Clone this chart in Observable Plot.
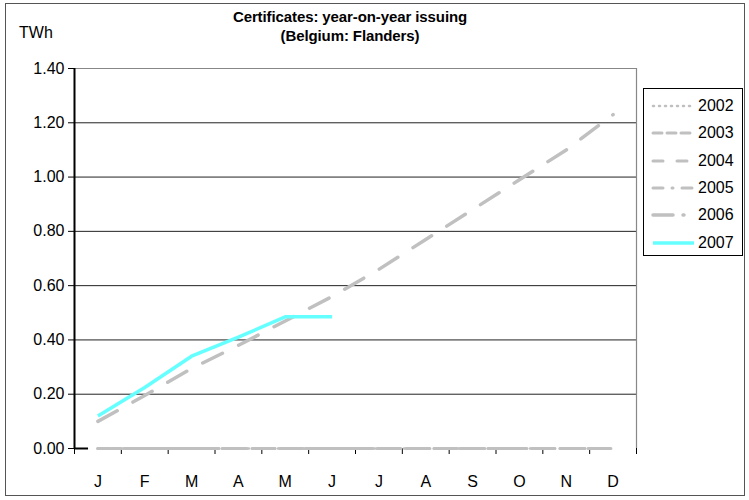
<!DOCTYPE html>
<html><head><meta charset="utf-8">
<script src="https://cdn.jsdelivr.net/npm/d3@7"></script>
<script src="https://cdn.jsdelivr.net/npm/@observablehq/plot@0.6"></script>
<style>
body{margin:0;background:#fff;font-family:"Liberation Sans",Arial,sans-serif;}
#wrap{position:relative;width:749px;height:500px;overflow:hidden;}
#border{position:absolute;left:5px;top:3px;width:740px;height:493px;border:1px solid #555;box-sizing:border-box;}
#title{position:absolute;left:150px;width:400px;top:7px;text-align:center;font-weight:bold;font-size:15px;line-height:19px;color:#000;letter-spacing:-0.1px;}
#unit{position:absolute;left:19px;top:24px;font-size:16px;color:#000;}
#chart{position:absolute;left:0;top:0;}
#legend{position:absolute;left:643px;top:88px;width:100px;height:168px;border:1px solid #000;box-sizing:border-box;background:#fff;}
.li{position:absolute;left:6px;height:20px;font-size:16px;line-height:20px;color:#000;}
.li svg{position:absolute;left:0;top:0;}
.li span{position:absolute;left:48px;top:0;}
</style></head>
<body>
<div id="wrap">
  <div id="chart"></div>
  <div id="border"></div>
  <div id="title">Certificates: year-on-year issuing<br>(Belgium: Flanders)</div>
  <div id="unit">TWh</div>
  <div id="legend"></div>
</div>
<script>
const months = ["J","F","M","A","M","J","J","A","S","O","N","D"];
const years = ["2002","2003","2004","2005","2006","2007"];
const yTicks = [0, 0.2, 0.4, 0.6, 0.8, 1.0, 1.2, 1.4];
const v2002 = [0,0,0,0,0,0,0,0,0,0,0,0];
const v2003 = [0,0,0,0,0,0,0,0,0,0,0,0];
const v2004 = [0,0,0,0,0,0,0,0,0,0,0,0];
const v2005 = [0,0,0,0,0,0,0,0,0,0,0,0];
const v2006 = [0.10,0.195,0.295,0.38,0.47,0.56,0.66,0.77,0.88,0.99,1.10,1.23];
const v2007 = [0.12,0.225,0.34,0.41,0.485,0.485];

const seriesValues = [v2002, v2003, v2004, v2005, v2006, v2007];
const styles = {
  "2002": {stroke:"#c0c0c0", width:2.5, dash:"1,5", legendDash:"1,5"},
  "2003": {stroke:"#c0c0c0", width:3, dash:"9,5", legendDash:"9,5"},
  "2004": {stroke:"#c0c0c0", width:3, dash:"12,14", legendDash:"10,14"},
  "2005": {stroke:"#c0c0c0", width:3, dash:"12,9,1,9", legendDash:"10,9,1,9"},
  "2006": {stroke:"#c0c0c0", width:3.5, dash:"22,18", legendDash:"20,10,1,10"},
  "2007": {stroke:"#66ffff", width:3.5, dash:null, legendDash:null}
};

const rows = [];
years.forEach((y, k) => seriesValues[k].forEach((v, i) => rows.push({year: y, m: i, v})));

const marks = [
  Plot.ruleY(yTicks.filter(t => t > 0 && t < 1.4), {y: d => d, stroke: "#222", strokeWidth: 1}),
  Plot.ruleY([1.4], {stroke: "#888", strokeWidth: 1.2}),
  Plot.ruleX([12], {stroke: "#888", strokeWidth: 1.2}),
  Plot.axisY({ticks: yTicks, tickFormat: d => d.toFixed(2), tickSize: 6, tickPadding: 4, fontSize: 16, label: null, stroke: "#000"}),
  Plot.axisX({ticks: d3.range(0, 13), tickFormat: () => "", tickSize: 6, label: null, stroke: "#000"}),
  Plot.axisX({ticks: months.map((_, i) => i + 0.5), tickFormat: d => months[Math.floor(d)], tickSize: 0, tickPadding: 27, fontSize: 16, label: null})
];
years.forEach(y => {
  const s = styles[y];
  marks.push(Plot.line(rows.filter(r => r.year === y), {
    x: d => d.m + 0.5, y: "v", stroke: s.stroke, strokeWidth: s.width,
    strokeDasharray: s.dash || undefined, strokeLinecap: s.dash ? "round" : "butt", strokeLinejoin: "round"
  }));
});
marks.push(Plot.ruleX([0], {stroke: "#000", strokeWidth: 2}));
marks.push(Plot.ruleY([0], {x1: 0, x2: 0.3, stroke: "#000", strokeWidth: 2}));

const chart = Plot.plot({
  width: 749, height: 500,
  marginLeft: 74, marginRight: 113, marginTop: 68, marginBottom: 52,
  x: {type: "linear", domain: [0, 12]},
  y: {domain: [0, 1.4]},
  style: {fontFamily: "'Liberation Sans', Arial, sans-serif", fontSize: "16px", color: "#000", background: "#fff"},
  marks
});
document.getElementById("chart").appendChild(chart);

const leg = document.getElementById("legend");
years.forEach((y, k) => {
  const s = styles[y];
  const div = document.createElement("div");
  div.className = "li";
  div.style.top = (7 + k * 27.3) + "px";
  div.innerHTML = `<svg width="46" height="20"><line x1="3" x2="44" y1="10" y2="10" stroke="${s.stroke}" stroke-width="${s.width}" ${s.legendDash ? `stroke-dasharray="${s.legendDash}" stroke-linecap="round"` : ""}/></svg><span>${y}</span>`;
  leg.appendChild(div);
});
</script>
</body></html>
